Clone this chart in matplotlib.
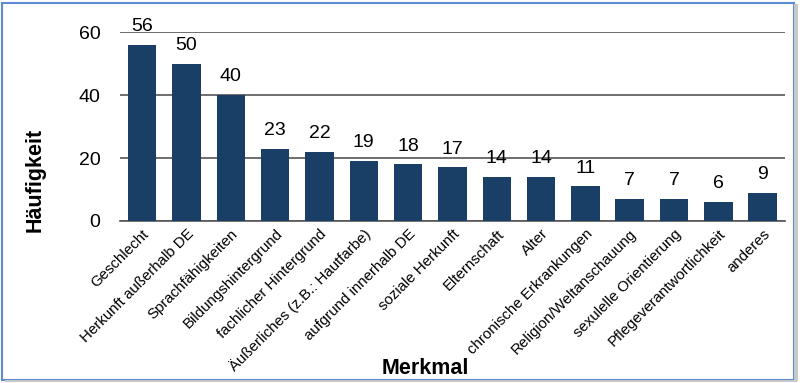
import matplotlib
matplotlib.use("Agg")
import matplotlib.pyplot as plt
from matplotlib.patches import Rectangle

plt.rcParams['font.family'] = ['Liberation Sans', 'DejaVu Sans']

categories = ["Geschlecht", "Herkunft außerhalb DE", "Sprachfähigkeiten", "Bildungshintergrund",
              "fachlicher Hintergrund", "Äußerliches (z.B.: Hautfarbe)", "aufgrund innerhalb DE",
              "soziale Herkunft", "Elternschaft", "Alter", "chronische Erkrankungen",
              "Religion/Weltanschauung", "sexulelle Orientierung", "Pflegeverantwortlichkeit", "anderes"]
values = [56, 50, 40, 23, 22, 19, 18, 17, 14, 14, 11, 7, 7, 6, 9]
yticks = [0, 20, 40, 60]

fig = plt.figure(figsize=(8, 3.83), dpi=100)
# figure frame
fig.patches.append(Rectangle((0.003, 0.008), 0.99, 0.985, transform=fig.transFigure,
                             fill=False, edgecolor='#5b8bd0', linewidth=1.5))
fig.patches.append(Rectangle((0.993, 0.004), 0.004, 0.985, transform=fig.transFigure,
                             facecolor='#c8c8c8', edgecolor='none'))
fig.patches.append(Rectangle((0.006, 0.002), 0.99, 0.006, transform=fig.transFigure,
                             facecolor='#c8c8c8', edgecolor='none'))

ax = fig.add_axes([0.15, 0.423, 0.831, 0.493])
x = range(len(categories))
bars = ax.bar(x, values, width=0.64, color='#1a3f66', zorder=3)
for xi, v in zip(x, values):
    ax.annotate(str(v), (xi, v), xytext=(0, 7), textcoords='offset points',
                ha='center', va='bottom', fontsize=14, color='black')

ax.set_ylim(0, 60)
ax.set_xlim(-0.5, len(categories) - 0.5)
ax.set_yticks(yticks)
ax.set_yticklabels([str(t) for t in yticks], fontsize=14)
ax.yaxis.grid(True, color='#555555', linewidth=1.2, zorder=0)
for s in ['top', 'right', 'left']:
    ax.spines[s].set_visible(False)
ax.spines['bottom'].set_color('#555555')
ax.spines['bottom'].set_linewidth(1.2)
ax.tick_params(axis='y', length=0, pad=14)
ax.tick_params(axis='x', length=0, pad=4)
ax.set_xticks(list(x))
ax.set_xticklabels(categories, rotation=45, ha='right', rotation_mode='anchor', fontsize=10.8)

ax.set_ylabel("Häufigkeit", fontsize=15.5, fontweight='bold')
ax.set_xlabel("Merkmal", fontsize=15.5, fontweight='bold')
ax.xaxis.set_label_coords(0.46, -0.78)
ax.xaxis.label.set_va('center')
ax.yaxis.set_label_coords(-0.128, 0.22)
ax.yaxis.label.set_va('center')

fig.savefig("out.png", dpi=100)
